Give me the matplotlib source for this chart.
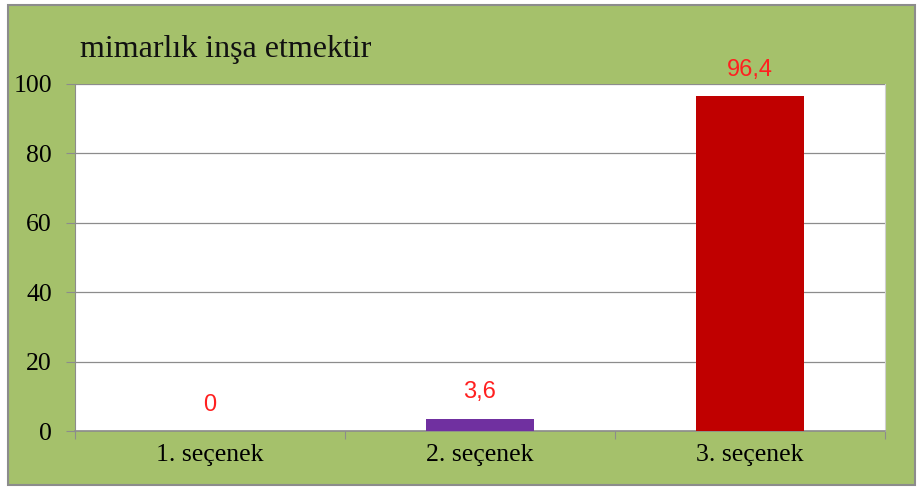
import matplotlib
matplotlib.use("Agg")
import matplotlib.pyplot as plt
from matplotlib.patches import Rectangle

title = "mimarlık inşa etmektir"
categories = ["1. seçenek", "2. seçenek", "3. seçenek"]
values = [0, 3.6, 96.4]
bar_colors = ["#4F81BD", "#7030A0", "#C00000"]
yticks = [0, 20, 40, 60, 80, 100]

green = "#A5C16B"
serif = ["Liberation Serif", "DejaVu Serif"]

fig = plt.figure(figsize=(9.2, 4.88), dpi=100)
fig.patch.set_facecolor("white")

# green chart area with gray outline, behind the axes
fig.patches.append(Rectangle((8 / 920, 3 / 488), 907 / 920, 480 / 488,
                             transform=fig.transFigure, facecolor=green,
                             edgecolor="#8C8C8C", linewidth=1.5, zorder=-1))

ax = fig.add_axes([75 / 920, (488 - 431) / 488, 810 / 920, 347 / 488])
ax.set_facecolor("white")

x = range(len(categories))
ax.bar(x, values, width=0.4, color=bar_colors, zorder=3)

for xi, v in zip(x, values):
    label = "{:g}".format(v).replace(".", ",")
    ax.annotate(label, (xi, v), xytext=(0, 14.5), textcoords="offset points",
                ha="center", va="baseline", color="#FF2020", fontsize=17,
                family=["Liberation Sans", "DejaVu Sans"], annotation_clip=False)

ax.set_xlim(-0.5, 2.5)
ax.set_ylim(0, 100)
ax.set_yticks(yticks)
ax.set_yticklabels([str(t) for t in yticks], family=serif, fontsize=18.5)
ax.yaxis.grid(True, color="#8C8C8C", linewidth=0.9, zorder=0)
ax.set_axisbelow(True)

ax.set_xticks([-0.5, 0.5, 1.5, 2.5])
ax.set_xticklabels([])
ax.set_xticks(list(x), minor=True)
ax.set_xticklabels(categories, minor=True, family=serif, fontsize=18.5)
ax.tick_params(axis="x", which="major", length=6, color="#8C8C8C")
ax.tick_params(axis="x", which="minor", length=0, pad=9)
ax.tick_params(axis="y", length=6.5, color="#8C8C8C", pad=10)

ax.spines["top"].set_visible(False)
ax.spines["right"].set_color("#D0D0D0")
ax.spines["left"].set_color("#8C8C8C")
ax.spines["bottom"].set_color("#8C8C8C")
ax.spines["bottom"].set_linewidth(1.2)

fig.text(80 / 920, 1 - 50 / 488, title, family=serif, fontsize=23,
         ha="left", va="center", color="#111111")

fig.savefig("out.png", dpi=100, facecolor=fig.get_facecolor())
